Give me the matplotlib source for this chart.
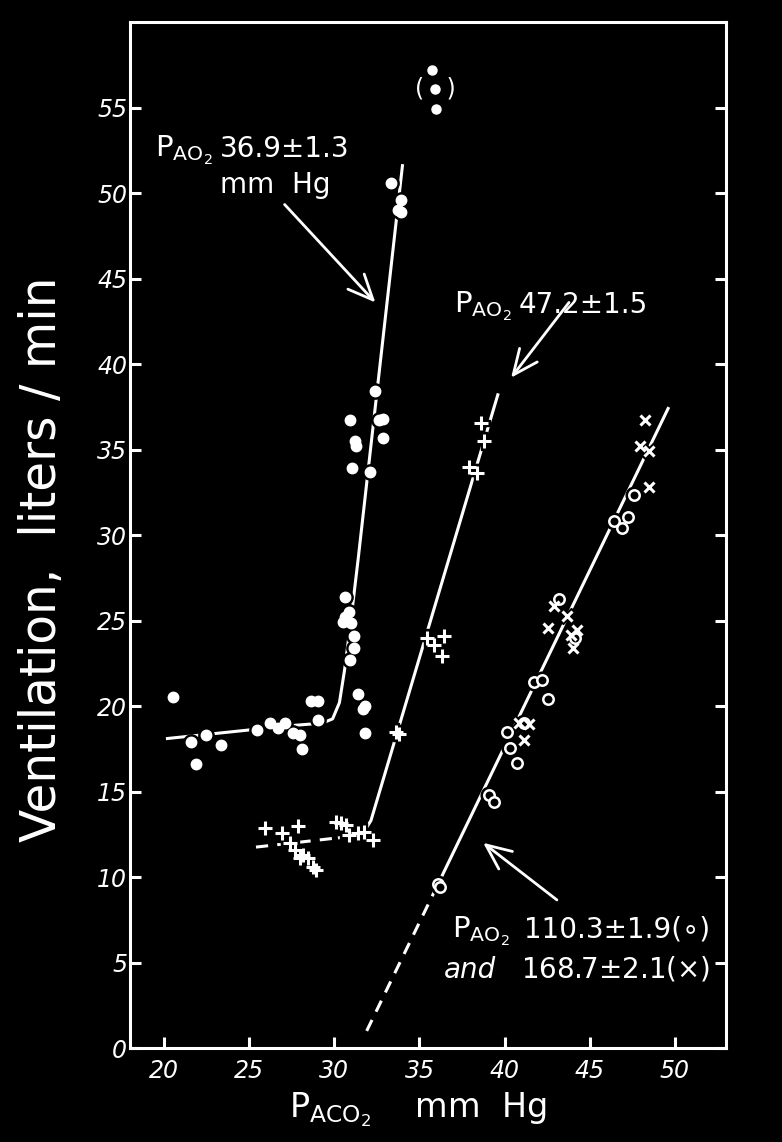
import numpy as np
import matplotlib
matplotlib.use('Agg')
import matplotlib.pyplot as plt

plt.rcParams['font.family'] = ['DejaVu Sans']
plt.rcParams['mathtext.fontset'] = 'dejavusans'

# PAO2 36.9 (filled dots)
g1_x = [20.54, 21.56, 21.87, 22.45, 23.33, 25.48, 26.24, 26.69, 27.08, 27.57, 27.96, 28.08,
        28.64, 29.03, 29.07, 31.37, 31.67, 31.82, 31.82,
        30.65, 30.6, 30.85, 30.99, 30.5, 31.18, 31.18, 30.93,
        32.41, 32.65, 32.84, 32.84, 31.24, 31.27, 30.9, 31.05, 32.1,
        33.33, 33.91, 33.71, 33.91]
g1_y = [20.5, 17.9, 16.6, 18.3, 17.7, 18.6, 19.0, 18.7, 19.0, 18.4, 18.3, 17.5,
        20.3, 20.3, 19.2, 20.7, 19.8, 20.0, 18.4,
        26.35, 25.2, 25.5, 24.85, 24.9, 24.1, 23.4, 22.7,
        38.4, 36.7, 36.8, 35.7, 35.5, 35.2, 36.7, 33.9, 33.7,
        50.6, 49.6, 49.0, 48.9]
out_x = [35.75, 35.93, 35.98]
out_y = [57.2, 56.1, 54.9]

# PAO2 47.2 (plus)
g2_x = [25.9, 26.94, 27.86, 27.37, 27.67, 27.96, 28.15, 28.45, 28.74, 28.94,
        30.1, 30.4, 30.69, 30.89, 31.37, 31.76, 32.25,
        33.62, 33.8, 35.47, 35.87, 36.45, 36.35, 37.92, 38.4, 38.6, 38.8]
g2_y = [12.85, 12.56, 12.99, 11.98, 11.59, 11.1, 11.29, 11.1, 10.6, 10.42,
        13.24, 13.15, 13.05, 12.46, 12.56, 12.66, 12.17,
        18.5, 18.35, 23.97, 23.58, 24.07, 22.9, 34.0, 33.6, 36.55, 35.48]

# PAO2 110.3 (circles) and 168.7 (crosses)
g3o_x = [36.1, 36.2, 39.09, 39.38, 40.16, 40.3, 40.71, 41.14, 41.73, 42.21, 42.56,
         43.22, 44.16, 46.41, 46.9, 47.25, 47.58]
g3o_y = [9.6, 9.4, 14.8, 14.4, 18.51, 17.57, 16.69, 19.0, 21.38, 21.53, 20.42,
         26.25, 23.97, 30.8, 30.41, 31.05, 32.36]
g3x_x = [40.85, 41.43, 41.14, 42.56, 42.9, 43.68, 43.87, 44.26, 44.0, 47.97, 48.46, 48.46, 48.26]
g3x_y = [19.0, 18.96, 18.02, 24.56, 25.86, 25.24, 24.17, 24.46, 23.39, 35.18, 34.89, 32.81, 36.75]

# fitted lines
c1_x = [20.2, 27.4, 29.3, 29.9, 30.3, 30.6, 30.9, 31.4, 34.0]
c1_y = [18.1, 18.85, 19.0, 19.25, 20.2, 22.1, 24.4, 28.6, 51.6]
c2d_x = [25.4, 30.3]
c2d_y = [11.75, 12.3]
c2_x = [30.3, 31.5, 31.9, 32.15, 39.6]
c2_y = [12.3, 12.6, 12.9, 13.3, 38.2]
c3d_x = [31.9, 36.0]
c3d_y = [1.0, 9.4]
c3_x = [36.0, 49.6]
c3_y = [9.4, 37.4]

fig = plt.figure(figsize=(7.82, 11.42), dpi=100, facecolor='black')
ax = fig.add_axes([0.1662, 0.0823, 0.7622, 0.8984])
ax.set_facecolor('black')

lw = 2.2
ax.plot(c1_x, c1_y, '-', color='white', lw=lw)
ax.plot(c2d_x, c2d_y, color='white', lw=lw, linestyle=(0, (4, 3)))
ax.plot(c2_x, c2_y, '-', color='white', lw=lw)
ax.plot(c3d_x, c3d_y, color='white', lw=lw, linestyle=(0, (4, 3)))
ax.plot(c3_x, c3_y, '-', color='white', lw=lw)

# black halos so the lines break around the points
ax.plot(g1_x, g1_y, 'o', color='black', ms=11, ls='none')
ax.plot(g2_x, g2_y, 'P', color='black', ms=13, ls='none')
ax.plot(g3o_x, g3o_y, 'o', color='black', ms=12, ls='none')
ax.plot(g3x_x, g3x_y, 'X', color='black', ms=12, ls='none')

ax.plot(g1_x, g1_y, 'o', color='white', ms=7.5, ls='none')
ax.plot(out_x, out_y, 'o', color='white', ms=6.5, ls='none')
ax.plot(g2_x, g2_y, '+', color='white', ms=10, mew=2.2, ls='none')
ax.plot(g3o_x, g3o_y, 'o', mfc='black', mec='white', ms=7.5, mew=1.8, ls='none')
ax.plot(g3x_x, g3x_y, 'x', color='white', ms=7.5, mew=2.2, ls='none')

ax.text(35.93, 56.1, '(   )', color='white', fontsize=17, ha='center', va='center')

ax.set_xlim(18, 53)
ax.set_ylim(0, 60)
ax.set_xticks(np.arange(20, 51, 5))
ax.set_yticks(np.arange(0, 56, 5))
for s in ax.spines.values():
    s.set_color('white')
    s.set_linewidth(2.2)
ax.tick_params(direction='in', length=8, width=2.2, colors='white', right=True, top=False, labelsize=17)
ax.tick_params(axis='y', pad=2)
ax.tick_params(axis='x', pad=8)
for lab in ax.get_xticklabels() + ax.get_yticklabels():
    lab.set_style('italic')

ax.text(-0.147, 0.476, 'Ventilation,  liters / min', transform=ax.transAxes, rotation=90,
        ha='center', va='center', color='white', fontsize=35)
ax.text(0.483, -0.06, r'P$_{\mathregular{A}\mathregular{CO}_{\mathregular{2}}}$    mm  Hg', transform=ax.transAxes,
        ha='center', va='center', color='white', fontsize=24)

pao2 = r'P$_{\mathregular{A}\mathregular{O}_{\mathregular{2}}}$'
fs = 20
ax.text(19.46, 52.1, pao2, color='white', fontsize=21, ha='left', va='baseline')
ax.text(23.27, 52.1, '36.9±1.3', color='white', fontsize=fs, ha='left', va='baseline')
ax.text(23.27, 50.0, 'mm  Hg', color='white', fontsize=fs, ha='left', va='baseline')
ax.text(37.04, 43.0, pao2, color='white', fontsize=21, ha='left', va='baseline')
ax.text(40.85, 43.0, '47.2±1.5', color='white', fontsize=fs, ha='left', va='baseline')
ax.text(36.92, 6.44, pao2, color='white', fontsize=21, ha='left', va='baseline')
ax.text(41.14, 6.44, '110.3±1.9(∘)', color='white', fontsize=fs, ha='left', va='baseline')
ax.text(36.45, 4.1, 'and', color='white', fontsize=fs, style='italic', ha='left', va='baseline')
ax.text(40.97, 4.1, r'168.7±2.1($\mathregular{\times}$)', color='white', fontsize=fs, ha='left', va='baseline')

arrow = dict(arrowstyle='->,head_length=0.9,head_width=0.4', color='white', lw=2, mutation_scale=20,
             shrinkA=0, shrinkB=0)
ax.annotate('', xy=(32.41, 43.6), xytext=(27.08, 49.33), arrowprops=arrow)
ax.annotate('', xy=(40.38, 39.2), xytext=(43.78, 43.6), arrowprops=arrow)
ax.annotate('', xy=(38.74, 12.0), xytext=(43.07, 8.66), arrowprops=arrow)

plt.savefig('out.png', dpi=100, facecolor='black')
